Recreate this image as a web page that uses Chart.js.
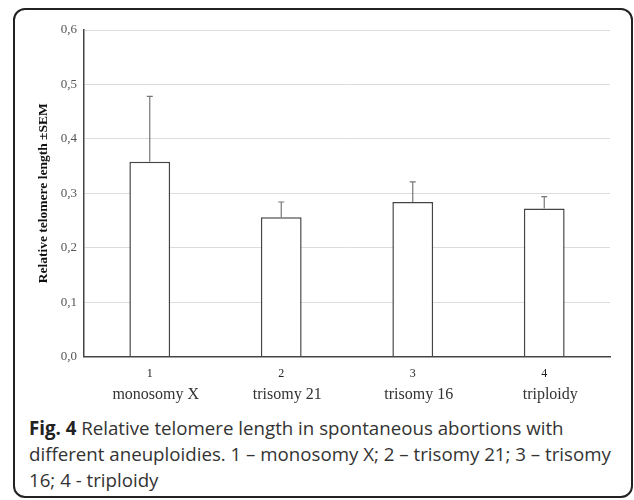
<!DOCTYPE html>
<html lang="en">
<head>
  <meta charset="UTF-8">
  <title>Relative telomere length</title>
  <script src="https://cdn.jsdelivr.net/npm/chart.js"></script>
  <style>
    body { margin: 0; background: #fff; }
    #frame {
      position: absolute; left: 13px; top: 8px; width: 620px; height: 490px;
      border: 2px solid #222; border-radius: 12px; box-sizing: border-box;
    }
    #wrap { position: absolute; left: 0; top: 0; width: 634px; height: 410px; }
    #caption {
      position: absolute; left: 29px; top: 415px; white-space: nowrap;
      font-family: 'Open Sans', sans-serif; font-size: 18.7px; line-height: 26px; color: #333;
    }
  </style>
</head>
<body>
  <div id="frame"></div>
  <div id="wrap"><canvas id="telomereChart" width="634" height="410"></canvas></div>
  <div id="caption"><b style="color:#222">Fig. 4</b> Relative telomere length in spontaneous abortions with<br>different aneuploidies. 1 – monosomy X; 2 – trisomy 21; 3 – trisomy<br>16; 4 - triploidy</div>

  <script>
    const groupNumbers = ['1', '2', '3', '4'];
    const groupNames = ['monosomy X', 'trisomy 21', 'trisomy 16', 'triploidy'];
    const meanLength = [0.358, 0.256, 0.284, 0.272];
    const semLength = [0.120, 0.028, 0.037, 0.022];
    const yTicks = [0, 0.1, 0.2, 0.3, 0.4, 0.5, 0.6];

    // draws the upper half of the SEM bars
    const errorBars = {
      id: 'errorBars',
      afterDatasetsDraw(chart) {
        const ctx = chart.ctx;
        const y = chart.scales.y;
        const meta = chart.getDatasetMeta(0);
        ctx.save();
        ctx.strokeStyle = '#777';
        ctx.lineWidth = 1.2;
        meta.data.forEach((bar, i) => {
          const yTop = y.getPixelForValue(meanLength[i] + semLength[i]);
          const yBar = y.getPixelForValue(meanLength[i]);
          ctx.beginPath();
          ctx.moveTo(bar.x, yBar);
          ctx.lineTo(bar.x, yTop);
          ctx.moveTo(bar.x - 3, yTop);
          ctx.lineTo(bar.x + 3, yTop);
          ctx.stroke();
        });
        ctx.restore();
      }
    };

    const ctx = document.getElementById('telomereChart').getContext('2d');
    new Chart(ctx, {
      type: 'bar',
      data: {
        labels: groupNumbers,
        datasets: [{
          data: meanLength,
          xAxisID: 'x',
          backgroundColor: '#fff',
          borderColor: '#444',
          borderWidth: 1.5,
          borderSkipped: 'bottom',
          categoryPercentage: 1,
          barPercentage: 0.31
        }]
      },
      options: {
        responsive: false,
        animation: false,
        layout: { padding: { top: 30, right: 24, left: 0, bottom: 0 } },
        plugins: { legend: { display: false }, tooltip: { enabled: false } },
        scales: {
          x: {
            grid: { display: false, drawTicks: false },
            border: { color: '#444', width: 1.5 },
            ticks: {
              color: '#222', padding: 10,
              font: { family: 'Liberation Serif', size: 12 }
            },
            afterFit(scale) { scale.height = 23.5; }
          },
          x2: {
            type: 'category',
            position: 'bottom',
            labels: groupNames,
            offset: true,
            grid: { display: false, drawTicks: false },
            border: { display: false },
            ticks: {
              color: '#333', padding: 5, labelOffset: 6,
              font: { family: 'Liberation Serif', size: 16 }
            },
            afterFit(scale) { scale.height = 29.9; }
          },
          y: {
            min: 0, max: 0.6,
            afterBuildTicks(scale) { scale.ticks = yTicks.map(v => ({ value: v })); },
            grid: { color: '#dcdcdc', lineWidth: 1, drawTicks: false },
            border: { color: '#444', width: 1.5 },
            ticks: {
              color: '#555', padding: 7,
              font: { family: 'Liberation Serif', size: 13 },
              callback: v => v.toFixed(1).replace('.', ',')
            },
            title: {
              display: true,
              text: 'Relative telomere length ±SEM',
              color: '#111',
              font: { family: 'Liberation Serif', size: 13.5, weight: 'bold' },
              padding: { top: 35, bottom: 0 }
            },
            afterFit(scale) { scale.width = 84; }
          }
        }
      },
      plugins: [errorBars]
    });
  </script>
</body>
</html>
